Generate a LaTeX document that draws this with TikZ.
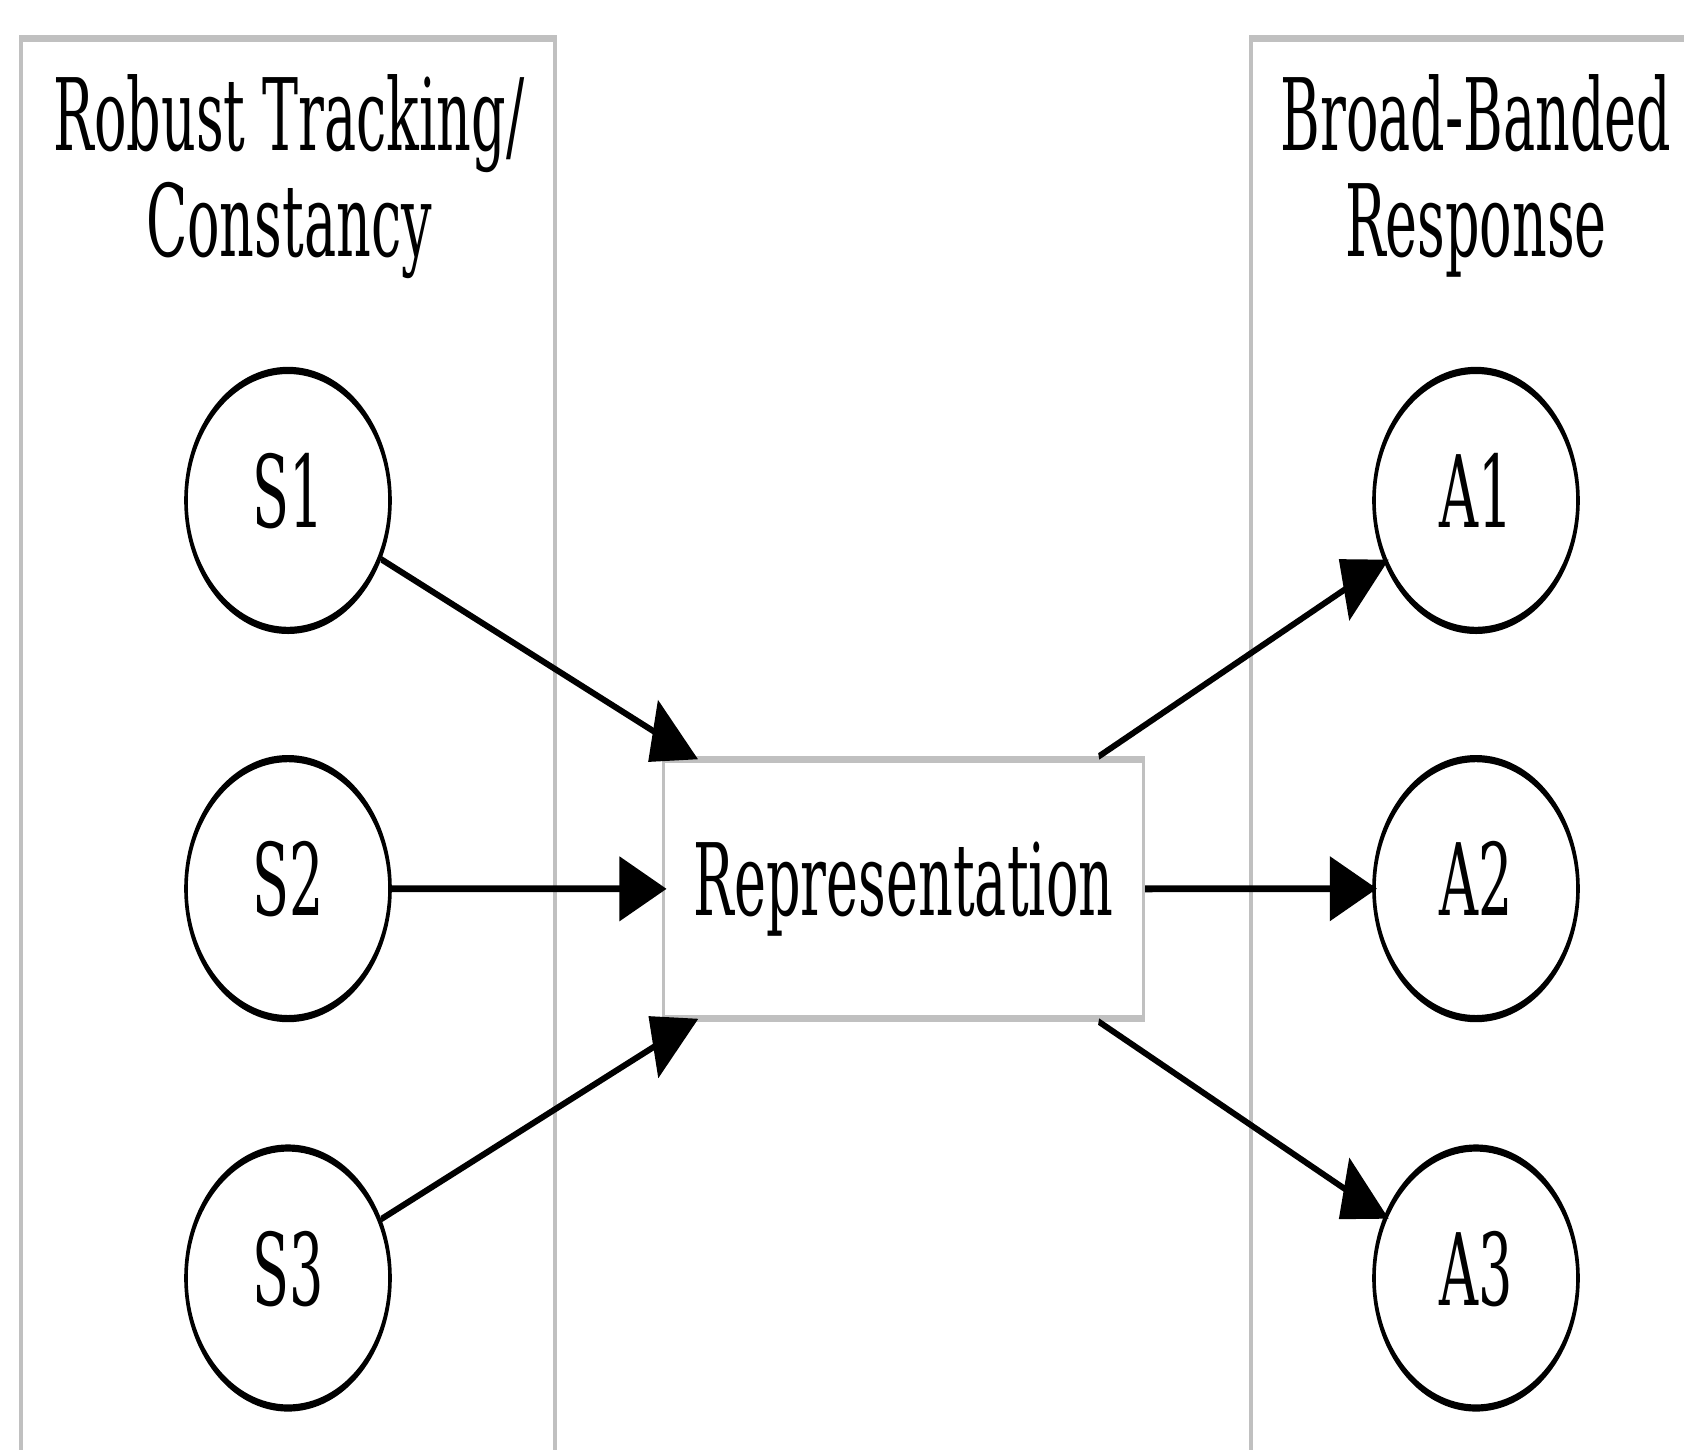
\documentclass[tikz,border=0pt]{standalone}
\usepackage{fontspec}
\usepackage{graphicx}
\setmainfont{DejaVu Serif}
\usetikzlibrary{arrows.meta,shapes.geometric}

\definecolor{clustergray}{HTML}{C0C0C0}

% labels are set a little wider than the font's natural width
\newcommand{\wtxt}[1]{\scalebox{1.08}[1]{#1}}

\tikzset{
  every node/.style={font=\fontsize{12.5}{13.25}\selectfont, inner sep=0pt},
  grp/.style={draw=clustergray, line width=0.85pt},
  oval/.style={ellipse, draw=black, line width=0.9pt, text depth=2.5pt,
               minimum width=51pt, minimum height=32.5pt},
  repbox/.style={rectangle, draw=clustergray, line width=0.85pt,
                 minimum width=120pt, minimum height=32.3pt},
  edge/.style={draw=black, line width=0.85pt, shorten >=-1.2pt,
               -{Triangle[length=11.8pt, width=7.9pt]}},
  lbl/.style={anchor=base}
}

\begin{document}
\begin{tikzpicture}[x=0.25pt, y=-0.25pt]
  \useasboundingbox (0,0) rectangle (1684,1449);
  % whole drawing is stretched vertically by two
  \begin{scope}[transform canvas={yscale=2}]
    % clusters
    \draw[grp] (21,19.4) rectangle (555,740);
    \draw[grp] (1251,19.4) rectangle (1720,740);
    \node[lbl] (labLa) at (289,75) {\wtxt{Robust Tracking/}};
    \node[lbl] (labLb) at (289,128) {\wtxt{Constancy}};
    \node[lbl] (labRa) at (1476,75) {\wtxt{Broad-Banded}};
    \node[lbl] (labRb) at (1476,128) {\wtxt{Response}};

    % stimulus nodes
    \node[oval] (s1) at (288,250.2) {\wtxt{S1}};
    \node[oval] (s2) at (288,444.3) {\wtxt{S2}};
    \node[oval] (s3) at (288,639) {\wtxt{S3}};

    % central representation
    \node[repbox] (rep) at (903.5,444.5) {\wtxt{Representation}};

    % response nodes
    \node[oval] (a1) at (1476,250.2) {\wtxt{A1}};
    \node[oval] (a2) at (1476,444.3) {\wtxt{A2}};
    \node[oval] (a3) at (1476,639) {\wtxt{A3}};

    % connectors
    \draw[edge] (s1) -- (rep);
    \draw[edge] (s2) -- (rep);
    \draw[edge] (s3) -- (rep);
    \draw[edge] (rep) -- (a1);
    \draw[edge] (rep) -- (a2);
    \draw[edge] (rep) -- (a3);
  \end{scope}
\end{tikzpicture}
\end{document}
